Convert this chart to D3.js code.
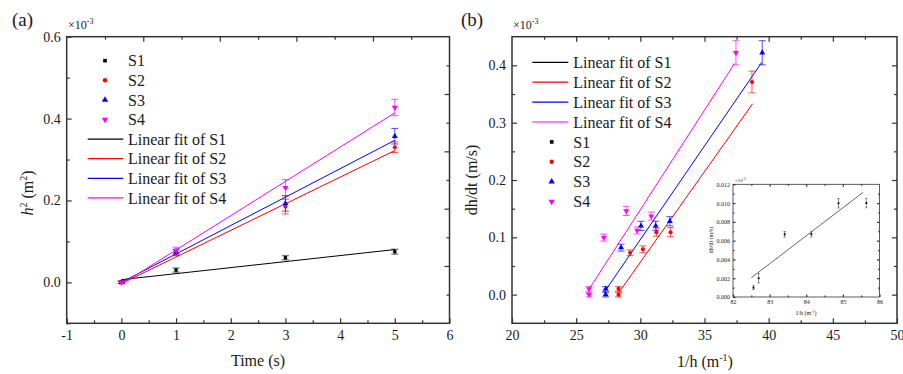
<!DOCTYPE html>
<html>
<head>
<meta charset="utf-8">
<script src="https://cdnjs.cloudflare.com/ajax/libs/d3/7.8.5/d3.min.js"></script>
<style>
  body { margin: 0; background: #fff; }
  svg, svg text { font-family: "Liberation Serif", "Times New Roman", Times, "DejaVu Serif", serif !important; fill: #1a1a1a; }
</style>
</head>
<body>
<svg id="chart" width="903" height="374" font-family="Liberation Serif, Times New Roman, serif"></svg>
<script>
// ---------- panel (a): h^2 (x1e-3 m^2) against time ----------
const timeA = [0, 1, 3, 5]
const h2S1 = [0, 0.030, 0.060, 0.075]
const h2S2 = [0, 0.072, 0.185, 0.330]
const h2S3 = [0, 0.074, 0.193, 0.357]
const h2S4 = [0, 0.078, 0.231, 0.427]
const errS1 = [0.003, 0.005, 0.005, 0.006]
const errS2 = [0.003, 0.007, 0.018, 0.013]
const errS3 = [0.003, 0.007, 0.019, 0.019]
const errS4 = [0.003, 0.008, 0.020, 0.020]
// linear fits: intercept, slope
const fitA_int = [0.0066, -0.003, 0.0, -0.0045]
const fitA_slope = [0.0147, 0.065, 0.0694, 0.0837]
const fitA_range = [0, 5]

// ---------- panel (b): dh/dt (x1e-3 m/s) against 1/h ----------
const invhS2 = [28.3, 28.3, 29.2, 30.2, 31.25, 32.35, 38.7]
const dhS2 = [0, 0.01, 0.073, 0.079, 0.109, 0.109, 0.371]
const dErrS2 = [0.004, 0.004, 0.005, 0.006, 0.007, 0.008, 0.019]
const invhS3 = [27.3, 27.3, 28.5, 30.05, 31.2, 32.3, 39.5]
const dhS3 = [0, 0.01, 0.082, 0.120, 0.120, 0.128, 0.422]
const dErrS3 = [0.004, 0.004, 0.006, 0.008, 0.008, 0.008, 0.021]
const invhS4 = [26.0, 26.0, 27.15, 28.9, 29.75, 30.85, 37.45]
const dhS4 = [0, 0.01, 0.0995, 0.146, 0.112, 0.137, 0.422]
const dErrS4 = [0.004, 0.004, 0.006, 0.008, 0.006, 0.007, 0.021]
const fitB_int = [-0.8914, -0.884, -0.894]
const fitB_slope = [0.0316, 0.03267, 0.03474]
const fitB_from = [28.35, 27.2, 25.97]
const fitB_to = [38.75, 39.46, 37.34]

// ---------- inset: S1 ----------
const invhS1 = [82.56, 82.7, 83.41, 84.14, 84.88, 85.64]
const dhS1 = [0.001, 0.002, 0.00668, 0.0067, 0.00998, 0.0100]
const dErrS1 = [0.0002, 0.0005, 0.0003, 0.0003, 0.0005, 0.0005]
const fitIn = {int: -0.2438, slope: 0.00298, from: 82.5, to: 85.55}

const names = ["S1", "S2", "S3", "S4"]
const colors = ["#000000", "#ff0000", "#0000ff", "#ff00ff"]
const FONT = "'Liberation Serif', 'Times New Roman', Times, 'DejaVu Serif', serif"

const svg = d3.select("#chart")

// marker symbols per series
const symbols = [
    d3.symbol().type(d3.symbolSquare).size(11),
    d3.symbol().type(d3.symbolCircle).size(13),
    d3.symbol().type(d3.symbolTriangle).size(15),
    d3.symbol().type(d3.symbolTriangle).size(15)
]
function marker(g, i, px, py, scale) {
    scale = scale || 1
    g.append("path")
        .attr("d", symbols[i]())
        .attr("fill", colors[i])
        .attr("transform", "translate(" + px + "," + py + ")" + (i == 3 ? " rotate(180)" : "") + " scale(" + scale + ")")
}

function txt(g, x, y, size) {
    return g.append("text").attr("x", x).attr("y", y).attr("font-size", size).style("font-family", FONT)
}

// plain hyphen for negatives, like the original
const intFmt = d => String(d)

// axes on all four sides, ticks pointing inward
function side(g, axisFn, scale, pos, vals, size, fmt, pad, fs) {
    let ax = axisFn(scale).tickValues(vals).tickSize(-size).tickPadding(pad || 4)
    ax.tickFormat(fmt || (() => ""))
    let s = g.append("g").attr("transform", pos).call(ax)
    s.attr("font-family", null)
    s.select(".domain").remove()
    s.selectAll(".tick line").attr("stroke", "#333").attr("stroke-width", 1.2)
    s.selectAll(".tick text").attr("font-size", fs || 14).attr("fill", "#1a1a1a")
        .style("font-family", FONT)
    return s
}

function box(g, x, y, sw) {
    g.append("rect")
        .attr("x", x.range()[0]).attr("y", y.range()[1])
        .attr("width", x.range()[1] - x.range()[0])
        .attr("height", y.range()[0] - y.range()[1])
        .attr("fill", "none").attr("stroke", "#333").attr("stroke-width", sw || 1.5)
}

function errBars(g, xs, ys, es, x, y, col, cap) {
    xs.forEach((v, k) => {
        let px = x(v)
        g.append("line").attr("x1", px).attr("x2", px)
            .attr("y1", y(ys[k] - es[k])).attr("y2", y(ys[k] + es[k]))
            .attr("stroke", col).attr("stroke-width", 0.9).attr("opacity", 0.75)
        ;[ys[k] - es[k], ys[k] + es[k]].forEach(e => {
            g.append("line").attr("x1", px - cap).attr("x2", px + cap)
                .attr("y1", y(e)).attr("y2", y(e))
                .attr("stroke", col).attr("stroke-width", 0.9).attr("opacity", 0.75)
        })
    })
}

function fitLine(g, x, y, a, b, x0, x1, col, w) {
    g.append("line")
        .attr("x1", x(x0)).attr("y1", y(a + b * x0))
        .attr("x2", x(x1)).attr("y2", y(a + b * x1))
        .attr("stroke", col).attr("stroke-width", w || 1)
}

// ================= panel (a) =================
const xA = d3.scaleLinear().domain([-1, 6]).range([66.7, 449.5])
const yA = d3.scaleLinear().domain([-0.1, 0.6]).range([323.3, 36.7])
const topA = d3.scaleLinear().domain([0, 10]).range([66.7, 449.5])
const rightA = d3.scaleLinear().domain([0, 10]).range([323.3, 36.7])
const gA = svg.append("g")

side(gA, d3.axisBottom, xA, "translate(0,323.3)", d3.range(-1, 7), 5, intFmt, 7)
side(gA, d3.axisBottom, xA, "translate(0,323.3)", d3.range(-0.5, 6, 1), 3)
side(gA, d3.axisLeft, yA, "translate(66.7,0)", [0, 0.2, 0.4, 0.6], 5, d3.format(".1f"), 6)
side(gA, d3.axisLeft, yA, "translate(66.7,0)", [-0.1, 0.1, 0.3, 0.5], 3)
side(gA, d3.axisTop, topA, "translate(0,36.7)", [2, 4, 6, 8], 5)
side(gA, d3.axisTop, topA, "translate(0,36.7)", [1, 3, 5, 7, 9], 3)
side(gA, d3.axisRight, rightA, "translate(449.5,0)", [2, 4, 6, 8], 5)
side(gA, d3.axisRight, rightA, "translate(449.5,0)", [1, 3, 5, 7, 9], 3)
box(gA, xA, yA)

const seriesA = [h2S1, h2S2, h2S3, h2S4]
const errA = [errS1, errS2, errS3, errS4]
seriesA.forEach((s, i) => fitLine(gA, xA, yA, fitA_int[i], fitA_slope[i], fitA_range[0], fitA_range[1], colors[i]))
seriesA.forEach((s, i) => errBars(gA, timeA, s, errA[i], xA, yA, colors[i], 3.5))
seriesA.forEach((s, i) => timeA.forEach((t, k) => marker(gA, i, xA(t), yA(s[k]))))

// legend (a)
names.forEach((n, i) => {
    let yy = 60.7 + i * 19.6
    marker(gA, i, 105, yy, 1.1)
    txt(gA, 128, yy, 16).attr("dy", "0.35em").text(n)
})
names.forEach((n, i) => {
    let yy = 60.7 + (i + 4) * 19.6
    gA.append("line").attr("x1", 87.7).attr("x2", 123.3).attr("y1", yy).attr("y2", yy)
        .attr("stroke", colors[i]).attr("stroke-width", 1.2)
    txt(gA, 128, yy, 16).attr("dy", "0.35em").text("Linear fit of " + n)
})

txt(gA, 12, 26, 19).text("(a)")
let mA = txt(gA, 68, 29, 12)
mA.append("tspan").text("×10")
mA.append("tspan").attr("dy", -5).attr("font-size", 8).text("-3")
txt(gA, 258, 366, 16).attr("text-anchor", "middle").text("Time (s)")
let labA = txt(gA, 0, 0, 16).attr("transform", "translate(33,193) rotate(-90)").attr("text-anchor", "middle")
labA.append("tspan").attr("font-style", "italic").text("h")
labA.append("tspan").attr("dy", -6).attr("font-size", 10).text("2")
labA.append("tspan").attr("dy", 6).text(" (m")
labA.append("tspan").attr("dy", -6).attr("font-size", 10).text("2")
labA.append("tspan").attr("dy", 6).text(")")

// ================= panel (b) =================
const xB = d3.scaleLinear().domain([20, 50]).range([512, 897])
const yB = d3.scaleLinear().domain([-0.05, 0.45]).range([323.3, 36.7])
const gB = svg.append("g")

side(gB, d3.axisBottom, xB, "translate(0,323.3)", d3.range(20, 51, 5), 5, intFmt, 7)
side(gB, d3.axisBottom, xB, "translate(0,323.3)", d3.range(22.5, 50, 5), 3)
side(gB, d3.axisLeft, yB, "translate(512,0)", [0, 0.1, 0.2, 0.3, 0.4], 5, d3.format(".1f"), 6)
side(gB, d3.axisLeft, yB, "translate(512,0)", [0.05, 0.15, 0.25, 0.35], 3)
side(gB, d3.axisTop, xB, "translate(0,36.7)", d3.range(25, 50, 5), 5)
side(gB, d3.axisTop, xB, "translate(0,36.7)", d3.range(22.5, 50, 5), 3)
side(gB, d3.axisRight, yB, "translate(897,0)", [0, 0.1, 0.2, 0.3, 0.4], 5)
side(gB, d3.axisRight, yB, "translate(897,0)", [0.05, 0.15, 0.25, 0.35], 3)
box(gB, xB, yB)

const xsB = [invhS2, invhS3, invhS4]
const ysB = [dhS2, dhS3, dhS4]
const esB = [dErrS2, dErrS3, dErrS4]
xsB.forEach((xs, j) => fitLine(gB, xB, yB, fitB_int[j], fitB_slope[j], fitB_from[j], fitB_to[j], colors[j + 1]))
xsB.forEach((xs, j) => errBars(gB, xs, ysB[j], esB[j], xB, yB, colors[j + 1], 3.5))
xsB.forEach((xs, j) => xs.forEach((v, k) => marker(gB, j + 1, xB(v), yB(ysB[j][k]))))

// legend (b)
names.forEach((n, i) => {
    let yy = 62.3 + i * 19.9
    gB.append("line").attr("x1", 532.3).attr("x2", 568.3).attr("y1", yy).attr("y2", yy)
        .attr("stroke", colors[i]).attr("stroke-width", 1.2)
    txt(gB, 573.3, yy, 16).attr("dy", "0.35em").text("Linear fit of " + n)
})
names.forEach((n, i) => {
    let yy = 62.3 + (i + 4) * 19.9
    marker(gB, i, 551.7, yy, 1.1)
    txt(gB, 573.3, yy, 16).attr("dy", "0.35em").text(n)
})

txt(gB, 461, 26, 19).text("(b)")
let mB = txt(gB, 513, 29, 12)
mB.append("tspan").text("×10")
mB.append("tspan").attr("dy", -5).attr("font-size", 8).text("-3")
let labBx = txt(gB, 705, 367, 16).attr("text-anchor", "middle")
labBx.append("tspan").text("1/h (m")
labBx.append("tspan").attr("dy", -6).attr("font-size", 10).text("-1")
labBx.append("tspan").attr("dy", 6).text(")")
txt(gB, 0, 0, 16).attr("transform", "translate(477,180) rotate(-90)").attr("text-anchor", "middle")
    .text("dh/dt (m/s)")

// ================= inset =================
const xI = d3.scaleLinear().domain([82, 86]).range([733, 879.5])
const yI = d3.scaleLinear().domain([0, 0.012]).range([297, 184.3])
const gI = svg.append("g")
gI.append("rect").attr("x", 733).attr("y", 184.3).attr("width", 146.5).attr("height", 112.7).attr("fill", "#fff")

side(gI, d3.axisBottom, xI, "translate(0,297)", d3.range(82, 87), 2.5, intFmt, 3, 6)
side(gI, d3.axisBottom, xI, "translate(0,297)", d3.range(82.5, 86, 1), 1.5)
side(gI, d3.axisLeft, yI, "translate(733,0)", d3.range(0, 0.0121, 0.002), 2.5, d3.format(".3f"), 3, 6)
side(gI, d3.axisLeft, yI, "translate(733,0)", d3.range(0.001, 0.012, 0.002), 1.5)
side(gI, d3.axisTop, xI, "translate(0,184.3)", d3.range(83, 86), 2.5)
side(gI, d3.axisTop, xI, "translate(0,184.3)", d3.range(82.5, 86, 1), 1.5)
side(gI, d3.axisRight, yI, "translate(879.5,0)", d3.range(0.002, 0.0111, 0.002), 2.5)
side(gI, d3.axisRight, yI, "translate(879.5,0)", d3.range(0.001, 0.012, 0.002), 1.5)
box(gI, xI, yI, 0.8)

fitLine(gI, xI, yI, fitIn.int, fitIn.slope, fitIn.from, fitIn.to, "#555", 0.9)
errBars(gI, invhS1, dhS1, dErrS1, xI, yI, "#555", 1.2)
invhS1.forEach((v, k) => marker(gI, 0, xI(v), yI(dhS1[k]), 0.55))

let mI = txt(gI, 735, 182, 5)
mI.append("tspan").text("×10")
mI.append("tspan").attr("dy", -2).attr("font-size", 3.5).text("-3")
let labIx = txt(gI, 806, 315, 6).attr("text-anchor", "middle")
labIx.append("tspan").text("1/h (m")
labIx.append("tspan").attr("dy", -2.5).attr("font-size", 4).text("-1")
labIx.append("tspan").attr("dy", 2.5).text(")")
txt(gI, 0, 0, 6).attr("transform", "translate(713,240) rotate(-90)").attr("text-anchor", "middle")
    .text("dh/dt (m/s)")
</script>
</body>
</html>
